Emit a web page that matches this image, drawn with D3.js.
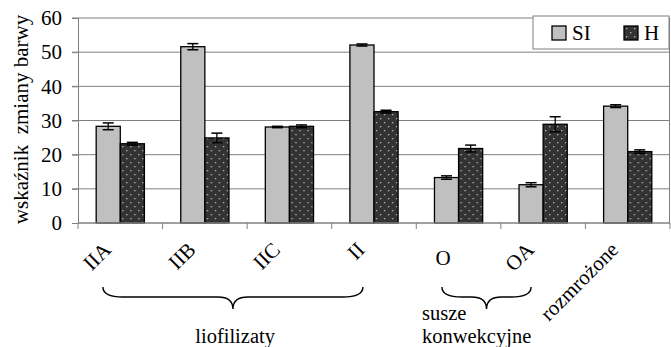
<!DOCTYPE html>
<html>
<head>
<meta charset="utf-8">
<script src="https://cdn.jsdelivr.net/npm/d3@7"></script>
<style>
    body { margin: 0; background: #fff; }
    svg { display: block; }
</style>
</head>
<body>
<svg id="chart" width="671" height="347" font-family="Liberation Serif"></svg>
<script>
// Data.
const categories = ['IIA', 'IIB', 'IIC', 'II', 'O', 'OA', 'rozmrożone'];
const series = ['SI', 'H'];
const siValues = [28.3, 51.6, 28.1, 52.1, 13.3, 11.2, 34.2];
const siErrors = [1.0, 0.9, 0.2, 0.3, 0.5, 0.6, 0.4];
const hValues = [23.2, 24.9, 28.3, 32.6, 21.8, 28.9, 20.9];
const hErrors = [0.4, 1.4, 0.4, 0.4, 1.0, 2.2, 0.5];
const yTicks = [0, 10, 20, 30, 40, 50, 60];
const groups = [
    {label: ['liofilizaty'], from: 'IIA', to: 'II'},
    {label: ['susze', 'konwekcyjne'], from: 'O', to: 'OA'}
];

// Layout.
const W = 671;
const H = 347;
const M = {top: 18, right: 1, bottom: 124, left: 78};
const FONT = "'Liberation Serif', 'Times New Roman', serif";
const svg = d3.select('#chart');

// Serif everywhere.
const serif = sel => sel.attr('font-family', 'Liberation Serif').style('font-family', FONT);

const x = d3.scaleBand()
    .domain(categories)
    .range([M.left, W - M.right])
    .paddingInner(0.43)
    .paddingOuter(0.215);
const xs = d3.scaleBand()
    .domain(series)
    .range([0, x.bandwidth()]);
const y = d3.scaleLinear()
    .domain([0, 60])
    .range([H - M.bottom, M.top]);

// Dotted fill for H.
const defs = svg.append('defs');
const pat = defs.append('pattern')
    .attr('id', 'dots')
    .attr('patternUnits', 'userSpaceOnUse')
    .attr('width', 8)
    .attr('height', 8);
pat.append('rect').attr('width', 8).attr('height', 8).attr('fill', '#333');
pat.append('rect').attr('x', 2).attr('y', 2).attr('width', 1.3).attr('height', 1.3).attr('fill', '#b8b8b8');
pat.append('rect').attr('x', 6).attr('y', 6).attr('width', 1.3).attr('height', 1.3).attr('fill', '#b8b8b8');

const fills = {SI: '#c0c0c0', H: 'url(#dots)'};

// Gridlines.
svg.append('g')
    .selectAll('line')
    .data(yTicks.filter(d => d > 0))
    .join('line')
    .attr('x1', M.left - 6)
    .attr('x2', W - M.right)
    .attr('y1', d => y(d))
    .attr('y2', d => y(d))
    .attr('stroke', '#808080')
    .attr('stroke-width', 1);

// Right border of plot area.
svg.append('line')
    .attr('x1', W - 1.5).attr('x2', W - 1.5)
    .attr('y1', y(60)).attr('y2', y(0))
    .attr('stroke', '#808080');

// Y axis.
const yAxis = svg.append('g')
    .attr('transform', `translate(${M.left},0)`)
    .call(d3.axisLeft(y).tickValues(yTicks).tickSize(6).tickPadding(10));
yAxis.attr('font-size', 21).attr('font-family', 'Liberation Serif');
yAxis.select('.domain').attr('stroke', '#808080');
yAxis.selectAll('.tick line').attr('stroke', '#808080');
yAxis.selectAll('.tick text').attr('fill', '#000').call(serif);

// Bars.
const rows = categories.map((c, i) => ({
    c,
    vals: [
        {s: 'SI', v: siValues[i], e: siErrors[i]},
        {s: 'H', v: hValues[i], e: hErrors[i]}
    ]
}));

const bar = svg.append('g')
    .selectAll('g')
    .data(rows)
    .join('g')
    .attr('transform', d => `translate(${x(d.c)},0)`);

bar.selectAll('rect')
    .data(d => d.vals)
    .join('rect')
    .attr('x', d => xs(d.s))
    .attr('width', xs.bandwidth())
    .attr('y', d => y(d.v))
    .attr('height', d => y(0) - y(d.v))
    .attr('fill', d => fills[d.s])
    .attr('stroke', '#000')
    .attr('stroke-width', 1.3);

// Error bars.
const err = bar.selectAll('g.err')
    .data(d => d.vals)
    .join('g')
    .attr('class', 'err')
    .attr('transform', d => `translate(${xs(d.s) + xs.bandwidth() / 2},0)`);
err.append('line')
    .attr('y1', d => y(d.v + d.e))
    .attr('y2', d => y(d.v - d.e))
    .attr('stroke', '#000')
    .attr('stroke-width', 1.3);
err.selectAll('line.cap')
    .data(d => [d.v + d.e, d.v - d.e])
    .join('line')
    .attr('class', 'cap')
    .attr('x1', -5.5).attr('x2', 5.5)
    .attr('y1', d => y(d)).attr('y2', d => y(d))
    .attr('stroke', '#000')
    .attr('stroke-width', 1.5);

// X axis.
const bounds = categories.map(c => x(c) - x.step() * x.paddingInner() / 2).concat([W - M.right]);
svg.append('line')
    .attr('x1', M.left).attr('x2', W - M.right)
    .attr('y1', y(0)).attr('y2', y(0))
    .attr('stroke', '#808080')
    .attr('stroke-width', 1.3);
svg.append('g')
    .selectAll('line')
    .data(bounds)
    .join('line')
    .attr('x1', d => d).attr('x2', d => d)
    .attr('y1', y(0)).attr('y2', y(0) + 6)
    .attr('stroke', '#808080');

// Category labels, rotated ("O" sits a little lower, as in the source).
svg.append('g')
    .selectAll('text')
    .data(categories)
    .join('text')
    .attr('transform', d => {
        const cx = x(d) + x.bandwidth() / 2 - 8;
        const cy = d === 'O' ? 265 : 251;
        return `translate(${cx},${cy}) rotate(${d === 'O' ? 0 : -45})`;
    })
    .attr('text-anchor', 'end')
    .attr('font-size', 21)
    .call(serif)
    .text(d => d);

// Group braces.
const brace = (x1, x2, top, mid, tip) => {
    const xm = (x1 + x2) / 2;
    const r = 10;
    return `M${x1},${top} Q${x1},${mid} ${x1 + r * 2},${mid} L${xm - r * 1.5},${mid} ` +
        `Q${xm},${mid} ${xm},${tip} Q${xm},${mid} ${xm + r * 1.5},${mid} ` +
        `L${x2 - r * 2},${mid} Q${x2},${mid} ${x2},${top}`;
};
const bg = svg.append('g')
    .selectAll('g')
    .data(groups)
    .join('g');
bg.append('path')
    .attr('d', (d, i) => {
        const a = x(d.from) + x.bandwidth() * (i === 0 ? 0.14 : 0.155);
        const b = x(d.to) + x.bandwidth() * (i === 0 ? 0.27 : 0.25);
        return brace(a, b, 287, 297, 309);
    })
    .attr('fill', 'none')
    .attr('stroke', '#000')
    .attr('stroke-width', 1.4);
bg.append('text')
    .attr('font-size', 20.5)
    .call(serif)
    .attr('text-anchor', (d, i) => i === 0 ? 'middle' : 'start')
    .attr('x', (d, i) => i === 0 ? (x(d.from) + x(d.to) + x.bandwidth() * 0.5) / 2 : x(d.from) - 12.5)
    .attr('y', (d, i) => i === 0 ? 343 : 320)
    .selectAll('tspan')
    .data(d => d.label)
    .join('tspan')
    .attr('x', function () { return d3.select(this.parentNode).attr('x'); })
    .attr('dy', (d, i) => i === 0 ? 0 : 23)
    .text(d => d);

// Y title.
svg.append('text')
    .attr('transform', `translate(28,${y(30) - 1}) rotate(-90)`)
    .attr('text-anchor', 'middle')
    .attr('font-size', 21)
    .call(serif)
    .style('white-space', 'pre')
    .text('wskaźnik  zmiany barwy');

// Legend.
const lg = svg.append('g').attr('transform', 'translate(533,16)');
lg.append('rect')
    .attr('width', 136).attr('height', 33)
    .attr('fill', '#fff')
    .attr('stroke', '#808080');
const li = lg.selectAll('g')
    .data(series)
    .join('g')
    .attr('transform', (d, i) => `translate(${19 + i * 72},10)`);
li.append('rect')
    .attr('width', 14).attr('height', 14)
    .attr('fill', d => fills[d])
    .attr('stroke', '#000')
    .attr('stroke-width', 1.3);
li.append('text')
    .attr('x', 20).attr('y', 14)
    .attr('font-size', 21)
    .call(serif)
    .text(d => d);

// Re-apply the serif face once the font is ready.
if (document.fonts && document.fonts.load) {
    document.fonts.load("21px 'Liberation Serif'").then(() => {
        svg.selectAll('text').call(serif);
    });
}
</script>
</body>
</html>
